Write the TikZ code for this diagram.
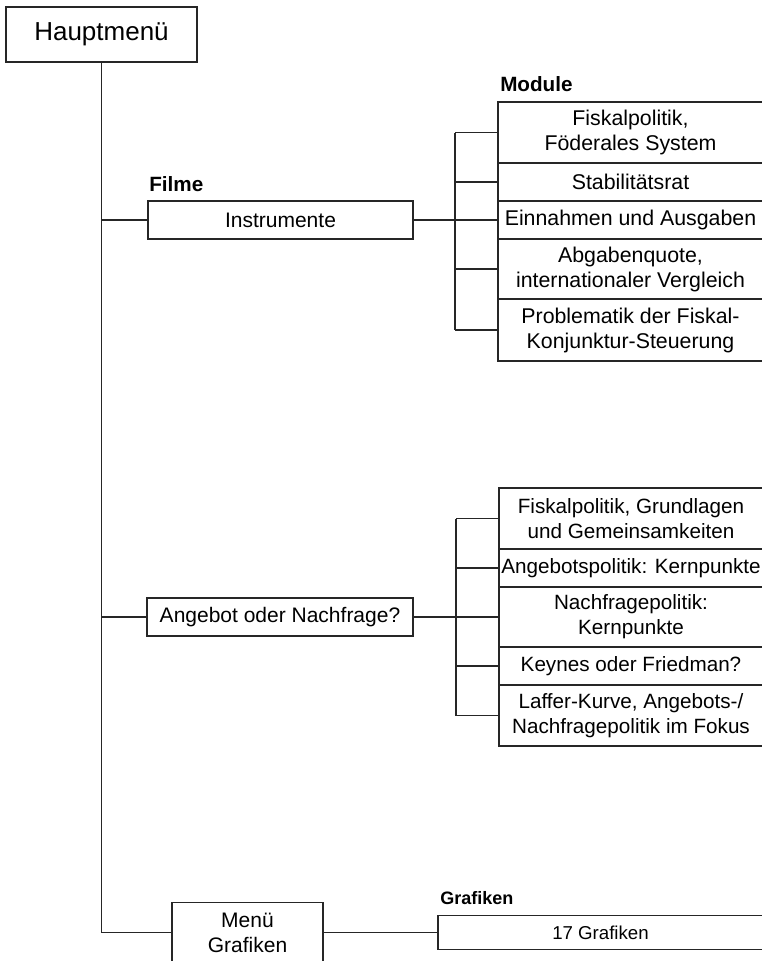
\documentclass[tikz,border=0pt]{standalone}
\usepackage{fontspec}
\setmainfont{Liberation Sans}
\usetikzlibrary{positioning}

\begin{document}
\begin{tikzpicture}[
        x=0.75pt, y=-0.75pt,
        line/.style={draw=black!85, line width=1pt},
        main_box/.style={draw=black!85, line width=1.8pt, minimum width=143.25pt, minimum height=41.25pt, font=\fontsize{19.5}{22}\selectfont},
        film_box/.style={draw=black!85, line width=1pt, minimum width=198.75pt, minimum height=28.5pt, inner sep=0pt, outer sep=0pt, align=center, font=\fontsize{15.75}{18.75}\selectfont},
        mod_box/.style={draw=black!85, line width=1pt, minimum width=198.75pt, inner sep=0pt, outer sep=0pt, align=center, font=\fontsize{16}{18.75}\selectfont},
        head/.style={anchor=base west, inner sep=0pt, font=\bfseries\fontsize{15.5}{18}\selectfont}
    ]

    % ========================================================
    % 0. RAHMEN (Bild ist rechts und unten beschnitten)
    % ========================================================
    \useasboundingbox (0,0) rectangle (762,961);
    \clip (0,0) rectangle (762,961);

    % ========================================================
    % 1. HAUPTMENUE
    % ========================================================
    \node[main_box] (haupt) at (101.5,34.5) {Hauptmenü};

    % ========================================================
    % 2. FILM INSTRUMENTE + MODULE (OBEN)
    % ========================================================
    \node[head] (lbl_filme) at (149,191) {Filme};
    \node[film_box] (instr) at (280.5,220) {Instrumente};

    \node[head] (lbl_module) at (500,91) {Module};
    \node[mod_box, minimum height=45.75pt] (m1) at (630.5,132.5) {Fiskalpolitik,\\Föderales System};
    \node[mod_box, minimum height=28.5pt, below=0pt of m1] (m2) {Stabilitätsrat};
    \node[mod_box, minimum height=28.5pt, below=0pt of m2] (m3) {Einnahmen und Ausgaben};
    \node[mod_box, minimum height=45pt, below=0pt of m3] (m4) {Abgabenquote,\\internationaler Vergleich};
    \node[mod_box, minimum height=46.5pt, below=0pt of m4] (m5) {Problematik der Fiskal-\\Konjunktur-Steuerung};

    % Gabel zu den Modulen
    \coordinate (gabel_a) at (455,220);
    \draw[line] (instr.east) -- (gabel_a);
    \draw[line] (gabel_a |- m1.west) -- (gabel_a |- m5.west);
    \foreach \m in {m1,m2,m3,m4,m5}
        \draw[line] (gabel_a |- \m.west) -- (\m.west);

    % ========================================================
    % 3. FILM ANGEBOT ODER NACHFRAGE + MODULE (MITTE)
    % ========================================================
    \node[film_box, minimum width=199.5pt] (angebot) at (280,617) {Angebot oder Nachfrage?};

    \node[mod_box, minimum width=198pt, minimum height=45.75pt, font=\fontsize{15.5}{18.75}\selectfont] (n1) at (631,518.5) {Fiskalpolitik, Grundlagen\\und Gemeinsamkeiten};
    \node[mod_box, minimum width=198pt, minimum height=28.5pt, font=\fontsize{15.5}{18.75}\selectfont, below=0pt of n1] (n2) {Angebotspolitik: Kernpunkte};
    \node[mod_box, minimum width=198pt, minimum height=45pt, font=\fontsize{15.5}{18.75}\selectfont, below=0pt of n2] (n3) {Nachfragepolitik:\\Kernpunkte};
    \node[mod_box, minimum width=198pt, minimum height=28.5pt, font=\fontsize{15.5}{18.75}\selectfont, below=0pt of n3] (n4) {Keynes oder Friedman?};
    \node[mod_box, minimum width=198pt, minimum height=45.75pt, font=\fontsize{15.5}{18.75}\selectfont, below=0pt of n4] (n5) {Laffer-Kurve, Angebots-/\\Nachfragepolitik im Fokus};

    % Gabel zu den Modulen
    \coordinate (gabel_b) at (456,617);
    \draw[line] (angebot.east) -- (gabel_b);
    \draw[line] (gabel_b |- n1.west) -- (gabel_b |- n5.west);
    \foreach \n in {n1,n2,n3,n4,n5}
        \draw[line] (gabel_b |- \n.west) -- (\n.west);

    % ========================================================
    % 4. MENUE GRAFIKEN (UNTEN)
    % ========================================================
    \node[film_box, minimum width=113.25pt, minimum height=45pt] (menu) at (247.5,932.5) {Menü\\Grafiken};

    \node[head, font=\bfseries\fontsize{13.5}{16}\selectfont] (lbl_grafiken) at (440,904) {Grafiken};
    \node[film_box, minimum width=243.75pt, minimum height=25.5pt, font=\fontsize{14}{16}\selectfont] (graf) at (600.5,932.5) {17 Grafiken};

    \draw[line] (menu.east) -- (graf.west);

    % Stamm vom Hauptmenue
    \draw[line] (haupt.south) -- (haupt.south |- menu.west) -- (menu.west);
    \draw[line] (haupt.south |- instr.west) -- (instr.west);
    \draw[line] (haupt.south |- angebot.west) -- (angebot.west);

\end{tikzpicture}
\end{document}
